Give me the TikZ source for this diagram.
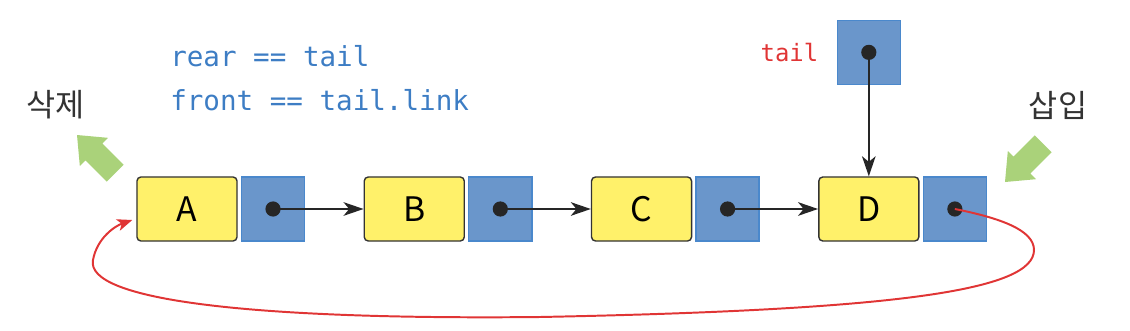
\documentclass[tikz,border=0pt]{standalone}
\usepackage{fontspec}
\setmainfont{Noto Sans CJK KR}
\newfontfamily\codefont{DejaVu Sans Mono}
\usetikzlibrary{arrows.meta,positioning}
\definecolor{qyellow}{HTML}{FFF16A}
\definecolor{qblue}{HTML}{6A96CB}
\definecolor{qedge}{HTML}{4A88CC}
\definecolor{qgreen}{HTML}{AAD27A}
\definecolor{qred}{HTML}{E03535}
\definecolor{qcode}{HTML}{3D7DC4}
\definecolor{qtext}{HTML}{333333}
% big green pointer: tip x, tip y, direction
\newcommand{\fatarrow}[3]{%
  \begin{scope}[shift={(#1,#2)}, rotate=#3]
    \fill[qgreen] (0,0) -- (-24,20) -- (-24,12) -- (-54,12) -- (-54,-12) -- (-24,-12) -- (-24,-20) -- cycle;
  \end{scope}}

\begin{document}
\begin{tikzpicture}[x=0.025cm, y=0.025cm, >=Stealth,
  data/.style={draw=qtext, line width=1pt, fill=qyellow, rounded corners=0.1cm, minimum width=2.5cm, minimum height=1.6cm, inner sep=0pt, font=\fontsize{24}{28}\selectfont},
  ptr/.style={draw=qedge, line width=1pt, fill=qblue, minimum width=1.58cm, minimum height=1.6cm, inner sep=0pt},
  dot/.style={circle, fill=black!85, inner sep=0pt, minimum size=0.38cm},
  code/.style={text=qcode, inner sep=0pt, font=\codefont\fontsize{19.6}{24}\selectfont},
  op/.style={text=qtext, inner sep=0pt, font=\fontsize{22.5}{26}\selectfont},
  next/.style={black!85, line width=1.4pt, shorten <=-1pt, -{Stealth[length=0.5cm, width=0.34cm, inset=0.14cm]}},
  link/.style={qred, line width=1.4pt, -{Stealth[length=0.38cm, width=0.3cm, inset=0.1cm]}}]
  \useasboundingbox (0,0) rectangle (1130,330);
  % the list
  \node[data] (A) at (187,121) {A};
  \node[ptr, right=0.075cm of A] (pA) {};
  \node[data, right=1.455cm of pA] (B) {B};
  \node[ptr, right=0.075cm of B] (pB) {};
  \node[data, right=1.455cm of pB] (C) {C};
  \node[ptr, right=0.075cm of C] (pC) {};
  \node[data, right=1.455cm of pC] (D) {D};
  \node[ptr, right=0.075cm of D] (pD) {};
  \foreach \p in {A,B,C,D}
    \node[dot] (d\p) at (p\p) {};
  \draw[next] (dA.center) -- (B.west);
  \draw[next] (dB.center) -- (C.west);
  \draw[next] (dC.center) -- (D.west);
  % tail pointer
  \node[ptr, above=2.28cm of D] (tail) {};
  \node[dot] (dtail) at (tail) {};
  \node[text=qred, inner sep=0pt, font=\codefont\fontsize{17}{20}\selectfont, left=0.45cm of tail] (tailname) {tail};
  \draw[next] (dtail.center) -- (D.north);
  % last node links back to the first
  \draw[link] (dD.center) .. controls (1000,112) and (1034,100) .. (1034,80)
    .. controls (1034,40) and (900,20) .. (540,13)
    .. controls (250,10) and (85,30) .. (93,70)
    .. controls (97,92) and (115,104) .. ([xshift=-0.1cm, yshift=-0.275cm]A.west);
  % notes
  \node[code, anchor=base west] (rear) at (170,263) {rear == tail};
  \node[code, anchor=base west] (front) at ([yshift=-1.075cm]rear.base west) {front == tail.link};
  \node[op] (del) at (56,225) {삭제};
  \node[op] (ins) at (1058,225) {삽입};
  \fatarrow{77}{195}{135}
  \fatarrow{1005}{148}{225}
\end{tikzpicture}
\end{document}
